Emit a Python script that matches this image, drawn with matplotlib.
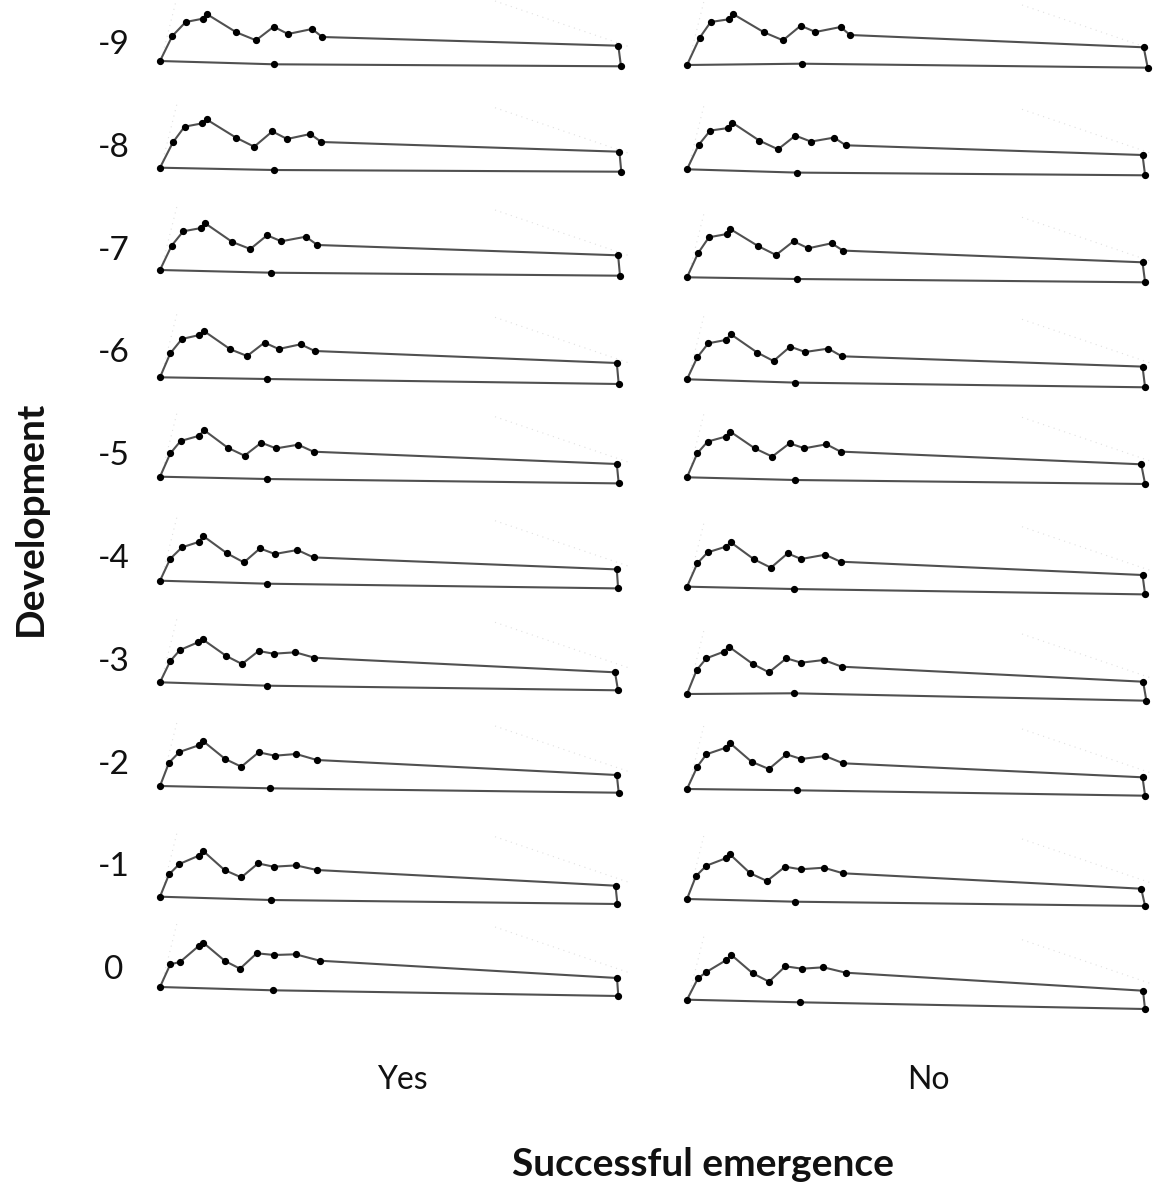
import matplotlib
matplotlib.use("Agg")
import matplotlib.pyplot as plt

# ---------------- data ----------------
stages = ["-9", "-8", "-7", "-6", "-5", "-4", "-3", "-2", "-1", "0"]
groups = ["Yes", "No"]

# landmark coordinates relative to landmark 1 (x right, y up), one list per stage
yes_x = [
    [0, 12.3, 25.7, 42.7, 46.7, 76.3, 96, 113.7, 128, 152, 162.3, 458.3, 461, 114],
    [0, 12.9, 24.5, 41.9, 46.5, 76.1, 94.2, 112.3, 127.1, 150.3, 161.3, 459.4, 461.3, 113.5],
    [0, 11.6, 23.2, 41.3, 45.2, 72.3, 90.3, 107.1, 121.3, 145.8, 157.4, 458.1, 460, 111],
    [0, 10.3, 21.9, 39.4, 43.9, 70.3, 87.1, 104.5, 118.7, 140.6, 154.8, 456.8, 458.7, 107.1],
    [0, 10.3, 20.6, 39.4, 43.9, 67.7, 84.5, 101.3, 116.1, 138.1, 153.5, 456.8, 458.7, 106.5],
    [0, 10.3, 21.9, 39.4, 43.2, 67.1, 83.9, 100, 114.8, 137.4, 153.5, 456.8, 458.1, 107.1],
    [0, 10.3, 20, 38, 42.6, 66.3, 82, 98.6, 113.6, 135.3, 154.3, 455, 458, 107.3],
    [0, 9, 19.4, 38.7, 42.6, 65.2, 81.3, 98.7, 114.8, 136.1, 156.8, 456.8, 458.7, 109.7],
    [0, 9, 19.4, 38.7, 43.2, 64.5, 81.3, 98.1, 113.5, 136.1, 156.8, 455.5, 457.4, 110.9],
    [0, 10.3, 20, 38.7, 43.3, 65, 80, 96.7, 114.3, 135.7, 159.7, 457, 458.3, 112.7],
]
yes_y = [
    [0, 25, 39, 42.3, 47, 28.7, 20.7, 34.3, 27, 32, 24, 15.3, -5.3, -3.3],
    [0, 25.3, 41, 44.3, 48.3, 30, 21, 36.3, 28.7, 33.7, 25.7, 16, -4, -2.3],
    [0, 24.3, 38.7, 42, 46.7, 28, 21, 34.7, 28.7, 33.3, 25, 14.7, -5.7, -2.7],
    [0, 24, 38.3, 42.3, 46.3, 28, 21.3, 34.7, 28.3, 33, 26.3, 14.3, -6.7, -1.7],
    [0, 23.3, 35.7, 41, 46.7, 29, 21, 34, 28.3, 32, 25, 12.7, -6.7, -2.3],
    [0, 22, 33.3, 39, 44.7, 27.3, 18.3, 32.3, 26.7, 30.7, 23.3, 11.3, -7.7, -3],
    [0, 21.3, 32.3, 40, 43, 26.3, 18.3, 31.3, 28.6, 30, 24.6, 10, -8, -3.4],
    [0, 23.3, 34, 40.7, 45.3, 27, 19.3, 33.7, 30.3, 32, 26, 11, -6.7, -2.3],
    [0, 22.3, 32.7, 41, 45.7, 26.7, 19.3, 33.3, 30, 31.3, 26.7, 11, -7.3, -3.3],
    [0, 22.7, 25, 41, 44.3, 26, 18.3, 33.7, 32, 32.7, 26.3, 9, -9, -3.3],
]
no_x = [
    [0, 12.7, 23.7, 41.7, 46, 77, 96, 113.7, 128.4, 153.7, 163, 456.7, 460.7, 115],
    [0, 11.6, 23.2, 41.3, 45.2, 72.3, 91, 108.4, 123.9, 147.1, 158.7, 455.5, 458.1, 109.7],
    [0, 11, 21.9, 40, 43.2, 71, 89, 106.5, 121.3, 144.5, 156.1, 455.5, 458.1, 109.7],
    [0, 10.3, 21.3, 38.7, 43.9, 70.3, 86.5, 103.2, 118.1, 141.3, 154.8, 455.5, 458.1, 107.7],
    [0, 10.3, 20.6, 38.7, 43.2, 67.7, 85.2, 102.6, 117.4, 139.4, 153.5, 454.2, 458.1, 107.7],
    [0, 10.3, 20.6, 38.7, 43.9, 67.1, 83.9, 100.6, 114.2, 138.1, 153.5, 455.5, 458.1, 106.5],
    [0, 9.7, 19.4, 36.8, 41.9, 65.8, 81.9, 99.4, 114.2, 136.8, 154.8, 456.1, 459.4, 106.5],
    [0, 10.3, 19.4, 38.7, 43.2, 64.5, 81.9, 99.4, 114.2, 138.1, 156.1, 455.5, 458.1, 109.7],
    [0, 9, 19.4, 38.7, 42.6, 63.2, 80, 98.1, 113.5, 136.8, 156.1, 454.2, 458.1, 108.4],
    [0, 11, 19.4, 39.4, 44.4, 65.7, 82, 98.4, 115, 136.4, 158.7, 456, 458, 112.7],
]
no_y = [
    [0, 27.3, 43, 45.7, 51, 32.7, 24.7, 39.3, 33, 38, 30, 17.7, -2.7, 1.3],
    [0, 24.3, 38.7, 41.3, 46.7, 28.7, 20, 33.7, 27.7, 31.7, 24, 14.3, -6, -3.3],
    [0, 24, 40, 43.3, 48.3, 31.3, 22.3, 36, 29, 34, 26.7, 15, -5, -1.7],
    [0, 22, 36, 39.3, 45, 26.7, 18.3, 32.7, 27.3, 30.7, 23, 12.7, -8, -3.3],
    [0, 24, 35.7, 40.7, 45.7, 29, 20.7, 34, 29, 33, 25.7, 13, -6.7, -2.7],
    [0, 23.3, 34.3, 40, 44.3, 27.3, 19, 33.3, 27.7, 32, 25, 11.7, -7.7, -2.3],
    [0, 24, 35.7, 42.3, 47.3, 30, 21.7, 35.7, 31.3, 34, 27.3, 12.3, -6.7, 0.7],
    [0, 22.3, 34.7, 41.3, 45.7, 27.3, 20, 34.7, 30, 33, 25.7, 11.7, -6.7, -1.3],
    [0, 23, 33.3, 40.7, 45, 25.7, 18, 32.3, 29.7, 31.3, 25.7, 10.3, -7, -2.7],
    [0, 21.4, 27.7, 39.7, 44.7, 26.4, 18, 33.4, 31, 32.4, 27, 9, -9.3, -2.6],
]
# vertical position of landmark 1 below the row's centre line
yes_anchor = [-16, -19.9, -19.4, -23.9, -20.5, -21.7, -20.5, -21.4, -29.3, -16.8]
no_anchor = [-20, -21.5, -26.7, -25.9, -21.1, -27.7, -32.2, -24.4, -31.6, -29.5]

# faint dotted reference outline (relative to landmark 1)
ref_left_x = [3, 17]
ref_left_y = [8, 64]
ref_right_x = [335, 470]
ref_right_y = [60, 14]

# ---------------- layout ----------------
W, H = 1153, 1189
fig = plt.figure(figsize=(W / 100, H / 100), dpi=100)
fig.patch.set_facecolor("white")

col_x0 = [160, 687]
row_y0 = 45.0
row_step = 102.8
xl = (-12, 478)
yl = (-52, 58)
FONT = ["Lato", "DejaVu Sans"]

for ci, (gx, gy, ga) in enumerate([(yes_x, yes_y, yes_anchor), (no_x, no_y, no_anchor)]):
    for ri in range(len(stages)):
        cy = row_y0 + ri * row_step
        left = col_x0[ci] + xl[0]
        top = cy - yl[1]
        w = xl[1] - xl[0]
        h = yl[1] - yl[0]
        ax = fig.add_axes([left / W, 1 - (top + h) / H, w / W, h / H])
        ax.set_xlim(*xl)
        ax.set_ylim(*yl)
        ax.axis("off")
        ax.patch.set_alpha(0)
        a = ga[ri]
        xs = list(gx[ri]) + [gx[ri][0]]
        ys = [v + a for v in gy[ri]] + [gy[ri][0] + a]
        ax.plot(ref_left_x, [v + a for v in ref_left_y], ls=(0, (1, 4)), color="#e0e0e0", lw=0.8)
        ax.plot(ref_right_x, [v + a for v in ref_right_y], ls=(0, (1, 4)), color="#e0e0e0", lw=0.8)
        ax.plot(xs, ys, color="#505050", lw=1.5, solid_joinstyle="round")
        ax.plot(gx[ri], [v + a for v in gy[ri]], ls="none", marker="o", ms=4.2,
                color="black")

# row labels
for ri, s in enumerate(stages):
    cy = row_y0 + ri * row_step
    fig.text(114 / W, 1 - cy / H, s, ha="center", va="center", fontsize=24,
             family=FONT, color="#111111")

# column labels
for ci, g in enumerate(groups):
    fig.text([402, 928][ci] / W, 1 - 1080 / H, g, ha="center", va="center",
             fontsize=23, family=FONT, color="#111111")

fig.text(703 / W, 1 - 1165 / H, "Successful emergence", ha="center", va="center",
         fontsize=28, fontweight="bold", family=FONT, color="#111111")
fig.text(30 / W, 1 - 518 / H, "Development", ha="center", va="center", rotation=90,
         fontsize=28, fontweight="bold", family=FONT, color="#111111")

fig.savefig("out.png", dpi=100, facecolor="white")
